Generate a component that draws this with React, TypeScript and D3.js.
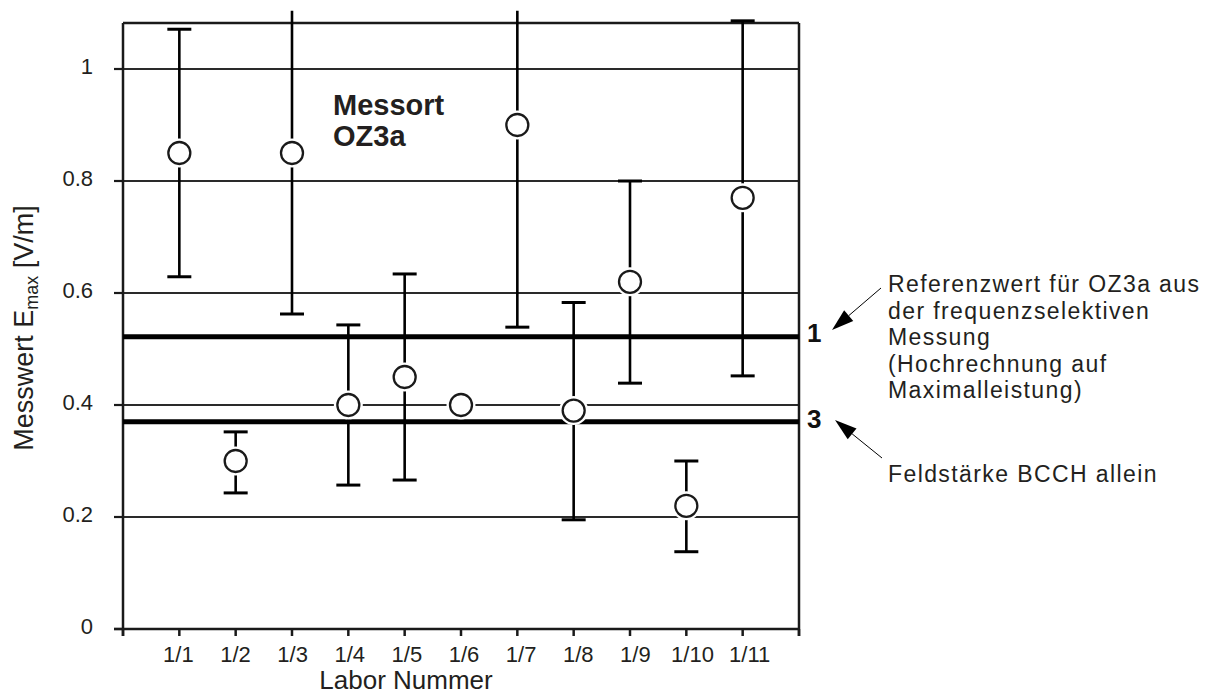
import React from "react";
import * as d3 from "d3";

// Labs (x axis categories) and their measured maximum field strength with uncertainty range
const labs = ["1/1", "1/2", "1/3", "1/4", "1/5", "1/6", "1/7", "1/8", "1/9", "1/10", "1/11"];
const values = [0.85, 0.3, 0.85, 0.4, 0.45, 0.4, 0.9, 0.39, 0.62, 0.22, 0.77];
// upper / lower limits of the uncertainty bars (null = no bar); 1.2 lies above the plotted range
const upper: (number | null)[] = [1.071, 0.352, 1.2, 0.543, 0.634, null, 1.2, 0.583, 0.8, 0.3, 1.086];
const lower: (number | null)[] = [0.629, 0.243, 0.5625, 0.257, 0.266, null, 0.539, 0.195, 0.439, 0.138, 0.452];

// reference values drawn as heavy horizontal lines
const refValues = [0.522, 0.37];
const refLabels = ["1", "3"];

const yTicks = [0, 0.2, 0.4, 0.6, 0.8, 1];
const yTickLabels = ["0", "0.2", "0.4", "0.6", "0.8", "1"];

const noteLines = [
  "Referenzwert für OZ3a aus",
  "der frequenzselektiven",
  "Messung",
  "(Hochrechnung auf",
  "Maximalleistung)",
];
const noteBcch = "Feldstärke BCCH allein";

const W = 1218;
const H = 698;
const FONT = "'Liberation Sans', Arial, Helvetica, sans-serif";

export default function App() {
  const x = d3.scaleLinear().domain([0, labs.length + 1]).range([123, 799]);
  // tick labels are set on a slightly wider pitch than the tick marks
  const xLabel = d3.scaleLinear().domain([1, labs.length]).range([x(1) - 1, x(labs.length) + 7]);
  const y = d3.scaleLinear().domain([0, 1]).range([629, 69]);
  const frameTop = y(1.082);
  const drawTop = y(1.104);
  const capHalf = 12;
  const ink = "#1a1a1a";
  const txt = "#231f20";

  const arrow = (x1: number, y1: number, x2: number, y2: number, key: string) => {
    const ang = Math.atan2(y2 - y1, x2 - x1);
    const len = 22;
    const hw = 7;
    const bx = x2 - len * Math.cos(ang);
    const by = y2 - len * Math.sin(ang);
    const px = -Math.sin(ang) * hw;
    const py = Math.cos(ang) * hw;
    return (
      <g key={key}>
        <line x1={x1} y1={y1} x2={bx} y2={by} stroke="#000" strokeWidth={1} />
        <polygon points={`${x2},${y2} ${bx + px},${by + py} ${bx - px},${by - py}`} fill="#000" />
      </g>
    );
  };

  return (
    <svg
      width={W}
      height={H}
      viewBox={`0 0 ${W} ${H}`}
      style={{ position: "absolute", left: 0, top: 0, background: "#fff" }}
      fontFamily={FONT}
    >
      {/* grid lines */}
      {yTicks.slice(1).map((t) => (
        <line key={"g" + t} x1={x(0)} x2={x(12)} y1={y(t)} y2={y(t)} stroke="#2a2a2a" strokeWidth={2} />
      ))}

      {/* frame */}
      <line x1={x(0)} x2={x(12)} y1={frameTop} y2={frameTop} stroke={ink} strokeWidth={2.5} />
      <line x1={x(0)} x2={x(0)} y1={frameTop} y2={y(0) + 7} stroke={ink} strokeWidth={2.5} />
      <line x1={x(12)} x2={x(12)} y1={frameTop} y2={y(0) + 7} stroke={ink} strokeWidth={2.5} />
      <line x1={x(0) - 9} x2={x(12)} y1={y(0)} y2={y(0)} stroke={ink} strokeWidth={2.5} />

      {/* y ticks and labels */}
      {yTicks.map((t, i) => (
        <g key={"yt" + t}>
          <line x1={x(0) - 9} x2={x(0)} y1={y(t)} y2={y(t)} stroke={ink} strokeWidth={2.2} />
          <text x={93} y={y(t) + 5} textAnchor="end" fontSize={22} fill={txt}>
            {yTickLabels[i]}
          </text>
        </g>
      ))}

      {/* x ticks and labels */}
      {d3.range(0, labs.length + 2).map((i) => (
        <line key={"xt" + i} x1={x(i)} x2={x(i)} y1={y(0)} y2={y(0) + 7} stroke={ink} strokeWidth={2.5} />
      ))}
      {labs.map((l, i) => (
        <text key={"xl" + l} x={xLabel(i + 1)} y={662} textAnchor="middle" fontSize={22} fill={txt}>
          {l}
        </text>
      ))}

      {/* axis titles */}
      <text x={406} y={689} textAnchor="middle" fontSize={26} fill={txt}>
        Labor Nummer
      </text>
      <text transform="translate(33,328) rotate(-90)" textAnchor="middle" fontSize={27} fill={txt}>
        Messwert E
        <tspan fontSize={18} dy={5}>max</tspan>
        <tspan dy={-5}> [V/m]</tspan>
      </text>

      {/* reference lines */}
      {refValues.map((v) => (
        <line key={"r" + v} x1={x(0)} x2={x(12)} y1={y(v)} y2={y(v)} stroke="#000" strokeWidth={5} />
      ))}

      {/* uncertainty bars */}
      {values.map((v, i) => {
        const hi = upper[i];
        const lo = lower[i];
        if (hi == null || lo == null) return null;
        const cx = x(i + 1);
        const yHi = Math.max(y(hi), drawTop);
        const capHi = y(hi) >= drawTop;
        return (
          <g key={"e" + i} stroke="#000">
            <line x1={cx} x2={cx} y1={yHi} y2={y(lo)} strokeWidth={2.6} />
            {capHi && <line x1={cx - capHalf} x2={cx + capHalf} y1={y(hi)} y2={y(hi)} strokeWidth={3} />}
            <line x1={cx - capHalf} x2={cx + capHalf} y1={y(lo)} y2={y(lo)} strokeWidth={3} />
          </g>
        );
      })}

      {/* points */}
      {values.map((v, i) => (
        <circle key={"h" + i} cx={x(i + 1)} cy={y(v)} r={14.5} fill="#fff" />
      ))}
      {values.map((v, i) => (
        <circle key={"p" + i} cx={x(i + 1)} cy={y(v)} r={11} fill="#fff" stroke={ink} strokeWidth={2.3} />
      ))}

      {/* location title */}
      <text fontSize={29} fontWeight="bold" fill={txt}>
        <tspan x={333} y={115}>Messort</tspan>
        <tspan x={333} y={146}>OZ3a</tspan>
      </text>

      {/* reference labels and notes */}
      {refValues.map((v, i) => (
        <text key={"rl" + v} x={807} y={y(v) + 5 + (i === 0 ? 0 : 1)} fontSize={26} fontWeight="bold" fill="#111">
          {refLabels[i]}
        </text>
      ))}
      {arrow(881, 288, 832, 330, "a1")}
      {arrow(882, 458, 835, 420, "a3")}
      <g fontSize={23} letterSpacing={1.4} fill={txt}>
        {noteLines.map((t, i) => (
          <text key={"n" + i} x={888} y={292 + i * 26.6}>
            {t}
          </text>
        ))}
        <text x={888} y={482}>
          {noteBcch}
        </text>
      </g>
    </svg>
  );
}
